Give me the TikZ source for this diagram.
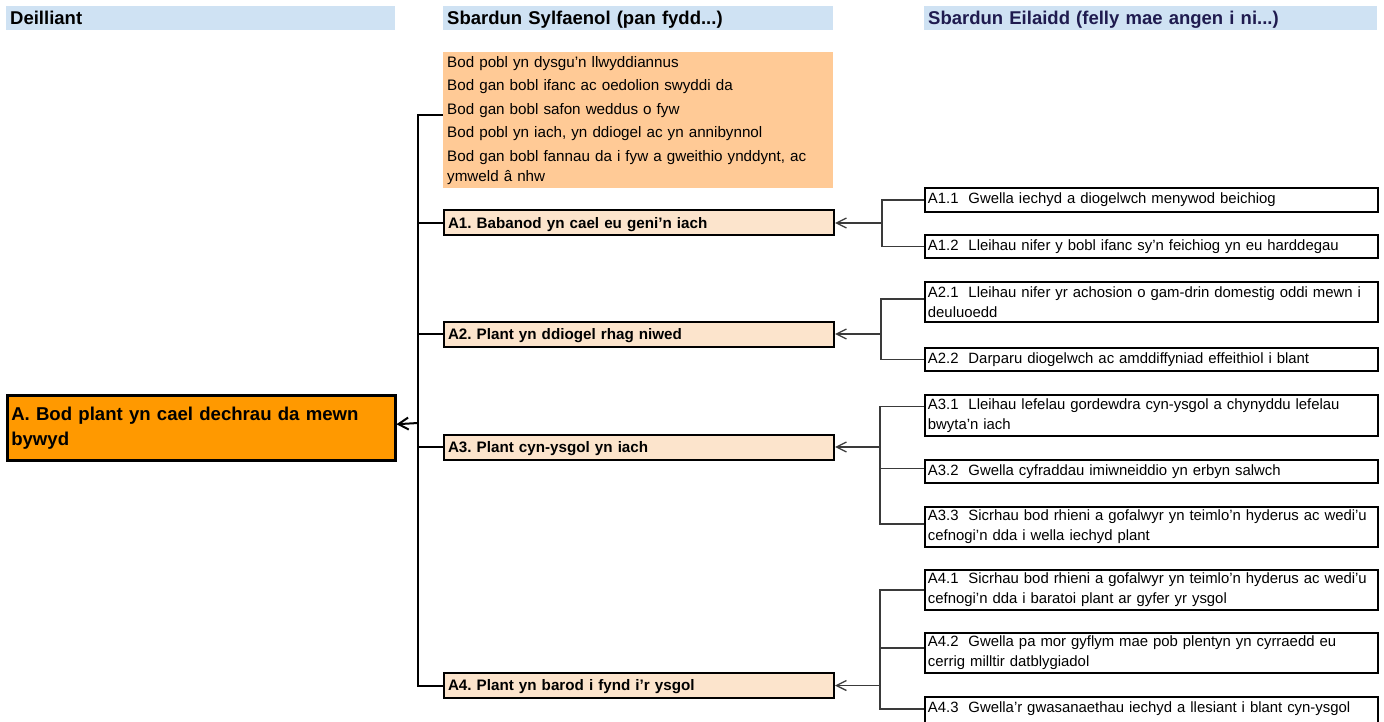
\documentclass[tikz,border=0pt]{standalone}
\usepackage{fontspec}
\setmainfont{Liberation Sans}
\usetikzlibrary{arrows.meta}
\frenchspacing

\definecolor{hdrblue}{HTML}{CFE2F3}
\definecolor{hdrnavy}{HTML}{1F1B4F}
\definecolor{goalpeach}{HTML}{FFCA96}
\definecolor{outorange}{HTML}{FF9900}
\definecolor{drvpeach}{HTML}{FCE4CC}
\definecolor{branchgray}{HTML}{3A3A3A}

\tikzset{
	hdr/.style={fill=hdrblue, anchor=north west, minimum height=24, inner xsep=4, inner ysep=0,
		align=left, text height=13.5, text depth=0, font=\bfseries\fontsize{18.5}{22}\selectfont},
	drv/.style={draw, line width=2, fill=drvpeach, anchor=north west, minimum height=25,
		text width=382, inner xsep=4, inner ysep=0, align=left,
		text height=10.9, text depth=0, font=\bfseries\fontsize{15.2}{20}\selectfont},
	sub/.style={draw, line width=1.8, anchor=north west, text width=447, inner xsep=3, inner ysep=0,
		align=left, font=\fontsize{14.9}{20}\selectfont},
	trunk/.style={line width=2},
	branch/.style={line width=1.3, draw=branchgray},
	barb/.style={-{Straight Barb[length=10,width=10]}},
}

\begin{document}
\begin{tikzpicture}[x=1pt, y=-1pt]
	\useasboundingbox (0,0) rectangle (1384,722);

	\node[hdr, text width=381] (hd1) at (6,6) {Deilliant};
	\node[hdr, text width=382] (hd2) at (443,6) {Sbardun Sylfaenol (pan fydd...)};
	\node[hdr, text width=445, text=hdrnavy] (hd3) at (924,6) {Sbardun Eilaidd (felly mae angen i ni...)};

	\node[fill=goalpeach,
		anchor=north west,
		minimum height=136,
		text width=382,
		inner xsep=4,
		inner ysep=4,
		align=left,
		font=\fontsize{15.2}{20}\selectfont
	] (goals) at (443,52) {Bod pobl yn dysgu’n llwyddiannus\\[3.5pt]
		Bod gan bobl ifanc ac oedolion swyddi da\\[3.5pt]
		Bod gan bobl safon weddus o fyw\\[3.5pt]
		Bod pobl yn iach, yn ddiogel ac yn annibynnol\\[3.5pt]
		Bod gan bobl fannau da i fyw a gweithio ynddynt, ac\\ymweld â nhw};

	\node[draw,
		line width=2.5,
		fill=outorange,
		anchor=north west,
		minimum height=65,
		text width=380,
		inner xsep=4,
		align=left,
		font=\bfseries\fontsize{18.6}{25}\selectfont
	] (out) at (6,394) {A. Bod plant yn cael dechrau da mewn\\bywyd};

	\node[drv] (a1) at (443,209.5) {A1. Babanod yn cael eu geni’n iach};
	\node[drv] (a2) at (443,320.5) {A2. Plant yn ddiogel rhag niwed};
	\node[drv] (a3) at (443,433.5) {A3. Plant cyn-ysgol yn iach};
	\node[drv] (a4) at (443,672) {A4. Plant yn barod i fynd i’r ysgol};

	\node[sub, minimum height=24] (a11) at (924,187) {A1.1\ \ Gwella iechyd a diogelwch menywod beichiog};
	\node[sub, minimum height=23] (a12) at (924,234) {A1.2\ \ Lleihau nifer y bobl ifanc sy’n feichiog yn eu harddegau};
	\node[sub, minimum height=40] (a21) at (924,281) {\mbox{A2.1\ \ Lleihau nifer yr achosion o gam-drin domestig oddi mewn i}\\deuluoedd};
	\node[sub, minimum height=23] (a22) at (924,347) {A2.2\ \ Darparu diogelwch ac amddiffyniad effeithiol i blant};
	\node[sub, minimum height=41] (a31) at (924,394) {\mbox{A3.1\ \ Lleihau lefelau gordewdra cyn-ysgol a chynyddu lefelau}\\bwyta’n iach};
	\node[sub, minimum height=23] (a32) at (924,459) {A3.2\ \ Gwella cyfraddau imiwneiddio yn erbyn salwch};
	\node[sub, minimum height=40] (a33) at (924,506) {\mbox{A3.3\ \ Sicrhau bod rhieni a gofalwyr yn teimlo’n hyderus ac wedi’u}\\cefnogi’n dda i wella iechyd plant};
	\node[sub, minimum height=40] (a41) at (924,569) {\mbox{A4.1\ \ Sicrhau bod rhieni a gofalwyr yn teimlo’n hyderus ac wedi’u}\\cefnogi’n dda i baratoi plant ar gyfer yr ysgol};
	\node[sub, minimum height=40] (a42) at (924,632) {\mbox{A4.2\ \ Gwella pa mor gyflym mae pob plentyn yn cyrraedd eu}\\cerrig milltir datblygiadol};
	\node[sub, minimum height=40] (a43) at (924,696) {A4.3\ \ Gwella’r gwasanaethau iechyd a llesiant i blant cyn-ysgol\\\mbox{}};

	\coordinate (tr) at (418,423);
	\path (a1.east) ++(47,0) coordinate (b1);
	\path (a2.east) ++(46,0) coordinate (b2);
	\path (a3.east) ++(45,0) coordinate (b3);
	\path (a4.east) ++(45,0) coordinate (b4);

	\draw[trunk, -{Straight Barb[length=10,width=12]}] (tr) -- ([yshift=3.5]out.east);
	\draw[trunk] (tr) |- ([yshift=5]goals.west);
	\draw[trunk] (tr) |- (a1.west);
	\draw[trunk] (tr) |- (a2.west);
	\draw[trunk] (tr) |- (a3.west);
	\draw[trunk] (tr) |- (a4.west);

	\draw[branch, barb] (b1) -- (a1.east);
	\draw[branch] (b1) |- (a11.west);
	\draw[branch] (b1) |- (a12.west);

	\draw[branch, barb] (b2) -- (a2.east);
	\draw[branch] (b2) |- ([yshift=3]a21.west);
	\draw[branch] (b2) |- (a22.west);

	\draw[branch, barb] (b3) -- (a3.east);
	\draw[branch] (b3) |- ([yshift=9]a31.west);
	\draw[branch] (b3) |- ([yshift=3]a32.west);
	\draw[branch] (b3) |- ([yshift=3]a33.west);

	\draw[branch, barb] (b4) -- (a4.east);
	\draw[branch] (b4) |- (a41.west);
	\draw[branch] (b4) |- ([yshift=5]a42.west);
	\draw[branch] (b4) |- ([yshift=8]a43.west);
\end{tikzpicture}
\end{document}
